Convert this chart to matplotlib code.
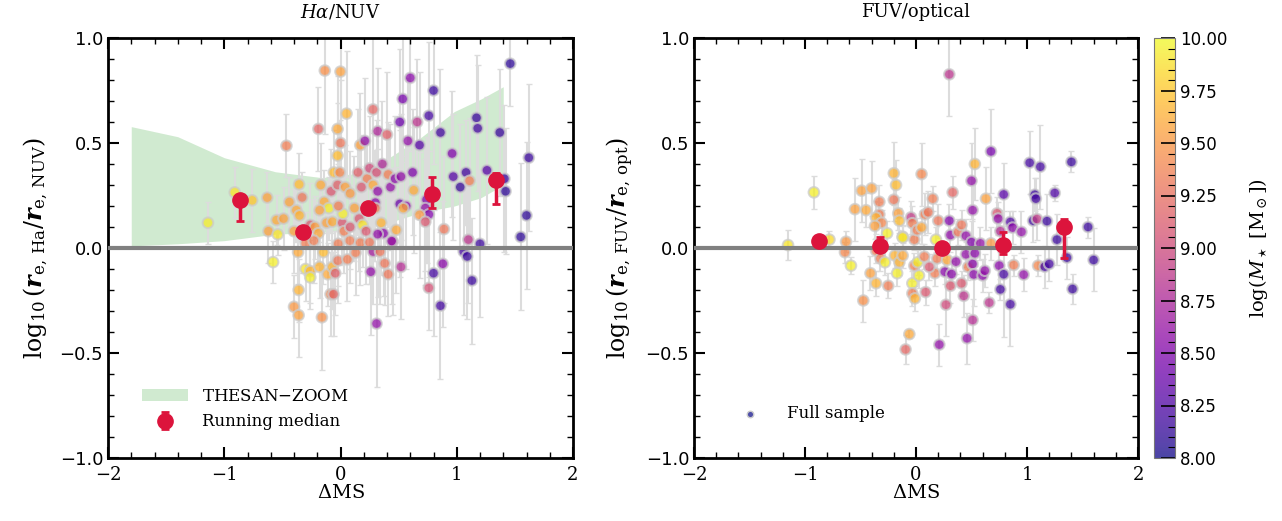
import matplotlib.pyplot as plt
import numpy as np
from matplotlib.ticker import MultipleLocator, FuncFormatter

plt.rcParams['font.family'] = 'DejaVu Serif'
plt.rcParams['mathtext.fontset'] = 'dejavuserif'

#----------------------------------------------------------------------
# Halpha / NUV panel
ha_dms = [-1.14, -0.91, -0.76, -0.63, -0.62, -0.54, -0.55, -0.49, -0.465, -0.44,
          -0.356, -0.33, -0.38, -0.353, -0.40, -0.19, -0.135, 0.0, 0.052, -0.025,
          0.0, -0.025, -0.057, -0.006, -0.17, -0.08, -0.025, 0.04, 0.083, -0.14,
          -0.10, -0.18, -0.12, -0.07, 0.015, 0.02, -0.018, -0.26, -0.22, -0.19,
          0.03, 0.083, 0.12, 0.15, 0.17, 0.23, 0.25, 0.28, 0.28, 0.31,
          0.32, 0.32, 0.40, 0.36, 0.41, 0.21, 0.18, 0.16, 0.19, 0.22,
          0.30, 0.30, 0.35, 0.37, 0.32, 0.43, 0.47, 0.52, 0.51, 0.565,
          0.54, 0.48, 0.45, 0.51, 0.535, 0.60, 0.58, 0.66, 0.62, 0.63,
          0.68, 0.76, 0.80, 0.86, 0.74, 0.73, 0.76, 0.68, 0.73, 0.89,
          0.96, 0.97, 1.03, 1.08, 1.11, 1.17, 1.18, 1.37, 1.26, 1.41,
          1.42, 1.46, 1.62, 1.60, 1.55, 1.10, 1.20,
          -0.58, -0.365, -0.30, -0.26, -0.26, -0.18, -0.147, -0.11, -0.07, -0.045,
          -0.023, 0.06, 0.13, -0.36, -0.40, -0.36, -0.16, -0.086, -0.06, 0.26,
          0.38, 0.41, 0.52, 0.31, 0.28, 0.76, 0.80, 0.88, 0.86, 1.06,
          1.09, 1.13, -0.30, -0.23, -0.02, 0.08, 0.17, 0.25, 0.34, 0.44]
ha_ratio = [0.12, 0.265, 0.227, 0.24, 0.08, 0.065, 0.133, 0.14, 0.487, 0.219,
            0.303, 0.241, 0.18, 0.155, 0.08, 0.567, 0.845, 0.84, 0.64, 0.567,
            0.50, 0.44, 0.36, 0.36, 0.30, 0.27, 0.30, 0.29, 0.26, 0.22,
            0.19, 0.18, 0.12, 0.125, 0.12, 0.163, 0.20, 0.11, 0.10, 0.07,
            0.08, 0.10, 0.19, 0.36, 0.49, 0.33, 0.38, 0.66, 0.30, 0.36,
            0.27, 0.556, 0.54, 0.40, 0.35, 0.51, 0.29, 0.14, 0.11, 0.08,
            0.216, 0.19, 0.12, 0.07, 0.066, 0.29, 0.33, 0.34, 0.21, 0.20,
            0.19, 0.086, 0.03, 0.60, 0.71, 0.81, 0.51, 0.60, 0.36, 0.275,
            0.49, 0.63, 0.75, 0.55, 0.23, 0.19, 0.16, 0.158, 0.125, 0.09,
            0.45, 0.34, 0.29, 0.36, 0.32, 0.62, 0.57, 0.55, 0.37, 0.33,
            0.27, 0.878, 0.43, 0.155, 0.053, 0.04, 0.02,
            -0.067, -0.02, -0.10, -0.11, -0.14, -0.09, -0.02, -0.125, -0.09, -0.12,
            -0.06, -0.054, -0.022, -0.20, -0.28, -0.32, -0.33, -0.22, -0.22, -0.113,
            -0.073, -0.125, -0.09, -0.36, -0.017, -0.19, -0.12, -0.075, -0.275, -0.017,
            -0.04, -0.155, 0.022, 0.035, 0.02, 0.035, 0.025, 0.027, -0.017, 0.033]
ha_err = [0.10, 0.12, 0.15, 0.12, 0.15, 0.10, 0.12, 0.15, 0.15, 0.12,
          0.15, 0.12, 0.15, 0.12, 0.20, 0.20, 0.30, 0.35, 0.30, 0.25,
          0.30, 0.25, 0.20, 0.25, 0.20, 0.20, 0.25, 0.20, 0.20, 0.15,
          0.15, 0.15, 0.20, 0.20, 0.20, 0.20, 0.20, 0.20, 0.15, 0.15,
          0.20, 0.20, 0.25, 0.30, 0.25, 0.20, 0.25, 0.35, 0.25, 0.25,
          0.20, 0.30, 0.30, 0.30, 0.25, 0.30, 0.25, 0.25, 0.20, 0.25,
          0.25, 0.25, 0.25, 0.30, 0.30, 0.30, 0.30, 0.30, 0.35, 0.30,
          0.25, 0.30, 0.35, 0.35, 0.30, 0.35, 0.30, 0.30, 0.30, 0.30,
          0.35, 0.35, 0.35, 0.30, 0.30, 0.30, 0.30, 0.30, 0.30, 0.35,
          0.30, 0.30, 0.30, 0.25, 0.30, 0.30, 0.30, 0.30, 0.35, 0.35,
          0.30, 0.20, 0.35, 0.35, 0.35, 0.30, 0.35,
          0.10, 0.15, 0.15, 0.15, 0.15, 0.15, 0.15, 0.15, 0.20, 0.20,
          0.20, 0.20, 0.20, 0.15, 0.15, 0.20, 0.25, 0.20, 0.20, 0.30,
          0.20, 0.20, 0.25, 0.30, 0.25, 0.20, 0.30, 0.30, 0.35, 0.30,
          0.30, 0.30, 0.15, 0.20, 0.20, 0.20, 0.20, 0.20, 0.25, 0.30]
ha_mass = [9.95, 9.9, 9.75, 9.55, 9.55, 9.9, 9.6, 9.55, 9.35, 9.55,
           9.7, 9.3, 9.6, 9.65, 9.55, 9.2, 9.45, 9.55, 9.65, 9.6,
           9.3, 9.7, 9.7, 9.4, 9.6, 9.1, 9.15, 9.55, 9.5, 9.6,
           9.95, 9.55, 9.55, 9.6, 9.1, 9.95, 9.35, 9.1, 9.55, 9.6,
           9.35, 9.1, 9.55, 9.15, 9.55, 9.35, 9.0, 9.2, 9.6, 9.05,
           8.6, 8.75, 9.15, 8.75, 9.35, 8.6, 9.1, 9.1, 9.9, 9.1,
           8.55, 9.35, 9.65, 8.55, 8.6, 8.6, 8.55, 8.6, 8.4, 8.55,
           9.6, 9.6, 8.8, 8.4, 8.45, 8.55, 8.6, 8.85, 8.5, 9.6,
           8.3, 8.2, 8.15, 8.2, 8.5, 8.6, 8.5, 9.5, 9.1, 9.3,
           8.5, 8.3, 8.15, 8.2, 9.35, 8.15, 8.2, 8.15, 8.3, 8.15,
           8.1, 8.1, 8.15, 8.1, 8.1, 8.85, 8.15,
           9.95, 9.6, 9.9, 9.65, 9.95, 9.65, 9.7, 9.6, 9.65, 9.15,
           9.3, 9.35, 9.35, 9.65, 9.5, 9.55, 9.45, 9.4, 9.2, 8.6,
           9.3, 9.3, 8.8, 8.6, 8.7, 9.05, 8.2, 8.55, 8.2, 8.2,
           8.15, 8.15, 9.35, 9.35, 9.35, 9.35, 9.35, 9.3, 9.3, 8.6]

# FUV / optical panel
fuv_dms = [-1.153, -0.92, -0.78, -0.63, -0.64, -0.55, -0.49, -0.45, -0.40, -0.33,
           -0.33, -0.36, -0.31, -0.37, -0.26, -0.20, -0.20, -0.18, -0.16, -0.15,
           -0.12, -0.045, -0.033, -0.015, 0.01, 0.05, 0.05, 0.08, 0.11, 0.15,
           0.20, 0.18, 0.30, 0.30, 0.33, 0.31, 0.38, 0.41, 0.45, 0.50,
           0.51, 0.50, 0.53, 0.58, 0.63, 0.675, 0.675, 0.73, 0.74, 0.76,
           0.79, 0.85, 0.87, 0.95, 1.024, 1.12, 1.07, 1.08, 1.055, 1.09,
           1.18, 1.25, 1.27, 1.40, 1.55,
           -0.586, -0.41, -0.36, -0.25, -0.475, -0.36, -0.32, -0.28, -0.19, -0.15,
           -0.17, -0.12, -0.12, -0.033, -0.033, -0.01, 0.027, -0.015, 0.015, 0.075,
           0.087, 0.17, 0.12, 0.19, 0.26, 0.27, 0.31, 0.32, 0.28, 0.36,
           0.41, 0.43, 0.45, 0.47, 0.51, 0.52, 0.51, 0.53, 0.60, 0.62,
           0.46, 0.21, -0.06, -0.094, 0.66, 0.75, 0.79, 0.76, 0.85, 0.88,
           0.97, 1.10, 1.16, 1.20, 1.36, 1.41, 1.60]
fuv_ratio = [0.014, 0.265, 0.04, 0.03, -0.02, 0.185, 0.273, 0.18, 0.284, 0.22,
             0.16, 0.145, 0.12, 0.105, 0.07, 0.23, 0.356, 0.30, 0.165, 0.13,
             0.054, 0.146, 0.118, 0.04, 0.085, 0.098, 0.352, 0.16, 0.17, 0.235,
             0.13, 0.04, 0.827, 0.13, 0.265, 0.062, 0.076, 0.11, 0.058, 0.32,
             0.18, 0.028, 0.40, 0.022, 0.235, 0.46, 0.022, 0.165, 0.14, 0.08,
             0.255, 0.124, 0.097, 0.077, 0.406, 0.387, 0.254, 0.235, 0.13, 0.138,
             0.128, 0.262, 0.04, 0.41, 0.10,
             -0.084, -0.12, -0.168, -0.18, -0.25, -0.013, -0.05, -0.068, -0.036, -0.068,
             -0.12, 0.05, -0.036, -0.168, -0.216, -0.24, -0.131, -0.084, -0.068, -0.041,
             -0.21, -0.12, -0.09, -0.05, -0.113, -0.27, -0.18, -0.124, -0.057, -0.065,
             -0.168, -0.228, -0.03, -0.09, -0.076, -0.126, -0.343, -0.025, -0.131, -0.108,
             -0.43, -0.46, -0.41, -0.483, -0.26, -0.084, -0.125, -0.197, -0.268, -0.081,
             -0.127, -0.084, -0.089, -0.076, -0.046, -0.195, -0.057]
fuv_err = [0.07, 0.08, 0.04, 0.05, 0.05, 0.15, 0.15, 0.08, 0.13, 0.08,
           0.06, 0.08, 0.06, 0.06, 0.06, 0.10, 0.15, 0.12, 0.08, 0.06,
           0.05, 0.08, 0.08, 0.05, 0.06, 0.08, 0.15, 0.10, 0.10, 0.06,
           0.08, 0.06, 0.20, 0.08, 0.08, 0.08, 0.06, 0.07, 0.08, 0.18,
           0.15, 0.10, 0.17, 0.08, 0.15, 0.20, 0.08, 0.08, 0.08, 0.10,
           0.15, 0.05, 0.08, 0.10, 0.15, 0.20, 0.08, 0.10, 0.10, 0.10,
           0.13, 0.04, 0.12, 0.05, 0.05,
           0.04, 0.08, 0.06, 0.06, 0.10, 0.06, 0.06, 0.06, 0.06, 0.06,
           0.06, 0.06, 0.06, 0.06, 0.06, 0.06, 0.06, 0.06, 0.06, 0.06,
           0.06, 0.06, 0.06, 0.06, 0.06, 0.15, 0.08, 0.06, 0.06, 0.06,
           0.06, 0.10, 0.06, 0.06, 0.06, 0.15, 0.10, 0.06, 0.08, 0.08,
           0.12, 0.10, 0.02, 0.07, 0.05, 0.10, 0.30, 0.05, 0.20, 0.05,
           0.08, 0.05, 0.10, 0.08, 0.10, 0.07, 0.15]
fuv_mass = [9.9, 9.95, 9.85, 9.5, 9.4, 9.55, 9.55, 9.6, 9.55, 9.35,
            9.35, 9.65, 9.4, 9.55, 9.95, 9.3, 9.65, 9.7, 9.55, 9.7,
            9.65, 8.9, 9.35, 9.35, 9.35, 9.6, 9.4, 9.35, 9.3, 9.35,
            9.3, 9.95, 8.85, 8.5, 9.2, 8.6, 9.3, 9.3, 8.6, 8.6,
            8.6, 8.5, 9.65, 8.6, 9.55, 8.45, 9.5, 9.1, 8.6, 8.8,
            8.3, 8.25, 8.55, 8.6, 8.2, 8.2, 8.15, 8.2, 8.15, 8.9,
            8.15, 8.25, 8.15, 8.15, 8.15,
            9.95, 9.55, 9.65, 9.35, 9.45, 9.35, 9.35, 9.95, 9.65, 9.65,
            9.95, 9.95, 9.6, 9.95, 9.35, 9.65, 9.95, 9.35, 9.95, 9.35,
            9.1, 9.35, 9.1, 9.35, 8.55, 9.0, 9.1, 8.55, 9.6, 8.6,
            9.1, 8.85, 8.6, 9.35, 8.55, 8.55, 8.8, 8.55, 8.55, 8.6,
            8.6, 8.6, 9.6, 9.2, 8.85, 8.55, 8.2, 8.2, 8.2, 9.35,
            8.6, 9.4, 8.2, 8.2, 8.15, 8.15, 8.15]

# Running medians
med_dms_ha = [-0.868, -0.32, 0.233, 0.787, 1.34]
med_ha = [0.227, 0.075, 0.189, 0.259, 0.324]
med_ha_lo = [0.10, 0.01, 0.01, 0.07, 0.115]
med_ha_hi = [0.005, 0.01, 0.01, 0.08, 0.035]
med_dms_fuv = [-0.874, -0.327, 0.23, 0.78, 1.336]
med_fuv = [0.032, 0.011, 0.0, 0.014, 0.099]
med_fuv_lo = [0.01, 0.02, 0.01, 0.043, 0.147]
med_fuv_hi = [0.01, 0.043, 0.01, 0.064, 0.038]

# THESAN-ZOOM band
band_x = [-1.8, -1.4, -1.0, -0.56, -0.16, 0.13, 0.41, 0.70, 0.98, 1.21, 1.40]
band_hi = [0.578, 0.53, 0.43, 0.363, 0.335, 0.355, 0.427, 0.53, 0.65, 0.71, 0.768]
band_lo = [0.01, 0.02, 0.035, 0.066, 0.075, 0.08, 0.12, 0.17, 0.20, 0.24, 0.30]

#----------------------------------------------------------------------
W, H = 1282, 521
fig = plt.figure(figsize=(W/100, H/100), dpi=100)
ax1 = fig.add_axes([108/W, 63/H, 465/W, 420/H])
ax2 = fig.add_axes([694/W, 63/H, 444/W, 420/H])
cax = fig.add_axes([1154/W, 63/H, 21/W, 420/H])

cmap = 'plasma'
red = '#dc143c'
minus_fmt = lambda fmt: FuncFormatter(lambda v, p: (fmt % v).replace('-', '\u2212'))


def panel(ax, x, y, err, m, mx, my, mlo, mhi):
	ax.errorbar(x, y, yerr=err, fmt='none', ecolor='#dcdcdc', elinewidth=1.5,
				capsize=2, capthick=1, zorder=1)
	sc = ax.scatter(x, y, c=m, cmap=cmap, vmin=8, vmax=10, s=58, alpha=0.75,
					edgecolors='#cccccc', linewidths=1.5, zorder=2)
	ax.axhline(0, color='gray', lw=3, zorder=3)
	ax.errorbar(mx, my, yerr=[mlo, mhi], fmt='o', color=red, ms=11,
				elinewidth=2.5, capsize=3, capthick=2, zorder=5, label='Running median')
	ax.set_xlim(-2, 2)
	ax.set_ylim(-1, 1)
	ax.xaxis.set_major_locator(MultipleLocator(1))
	ax.xaxis.set_minor_locator(MultipleLocator(0.2))
	ax.yaxis.set_major_locator(MultipleLocator(0.5))
	ax.yaxis.set_minor_locator(MultipleLocator(0.1))
	ax.yaxis.set_major_formatter(minus_fmt('%.1f'))
	ax.tick_params(which='both', direction='in', top=True, right=True)
	ax.tick_params(which='major', length=8, width=1.5, labelsize=13)
	ax.tick_params(which='minor', length=4, width=1)
	ax.tick_params(axis='x', which='major', pad=6)
	for lab in ax.get_yticklabels():
		lab.set_fontfamily('DejaVu Sans')
	for s in ax.spines.values():
		s.set_linewidth(2)
	ax.set_xlabel(r'$\Delta$MS', fontsize=14, labelpad=0)
	return sc


sc = panel(ax1, ha_dms, ha_ratio, ha_err, ha_mass, med_dms_ha, med_ha, med_ha_lo, med_ha_hi)
ax1.fill_between(band_x, band_lo, band_hi, color='tab:green', alpha=0.22, lw=0, zorder=0,
				 label='THESAN$-$ZOOM')
ax1.set_title(r'$H\alpha$/NUV', fontsize=13, pad=15)
ax1.set_ylabel(r'$\log_{10}(\boldsymbol{r}_{\rm e,\,Ha}/\boldsymbol{r}_{\rm e,\,NUV})$', fontsize=17, labelpad=7)
hh, ll = ax1.get_legend_handles_labels()
order = [ll.index('THESAN$-$ZOOM'), ll.index('Running median')]
ax1.legend([hh[i] for i in order], [ll[i] for i in order], loc='lower left', frameon=False,
		   fontsize=12, handlelength=2.8, bbox_to_anchor=(0.04, 0.03))

panel(ax2, fuv_dms, fuv_ratio, fuv_err, fuv_mass, med_dms_fuv, med_fuv, med_fuv_lo, med_fuv_hi)
ax2.set_title('FUV/optical', fontsize=13, pad=15)
ax2.set_ylabel(r'$\log_{10}(\boldsymbol{r}_{\rm e,\,FUV}/\boldsymbol{r}_{\rm e,\,opt})$', fontsize=17, labelpad=7)
full = ax2.scatter([], [], color='#4f4fa8', s=22, edgecolors='#cccccc', linewidths=1)
ax2.legend([full], ['Full sample'], loc='lower left', frameon=False, fontsize=12,
		   handlelength=2.8, bbox_to_anchor=(0.04, 0.05))

cb = fig.colorbar(sc, cax=cax)
cb.set_ticks(np.arange(8, 10.01, 0.25))
cb.ax.yaxis.set_major_formatter(minus_fmt('%.2f'))
cb.ax.yaxis.set_minor_locator(MultipleLocator(0.05))
cb.ax.tick_params(which='major', direction='in', length=10, width=1.2, labelsize=12)
cb.ax.tick_params(which='minor', direction='in', length=5, width=0.8)
for lab in cb.ax.get_yticklabels():
	lab.set_fontfamily('DejaVu Sans')
cb.outline.set_linewidth(0.8)
cb.outline.set_edgecolor('#777777')
cb.set_label(r'$\log(M_\star\ [\rm M_\odot])$', fontsize=14, labelpad=14)

fig.savefig('out.png', dpi=100)
